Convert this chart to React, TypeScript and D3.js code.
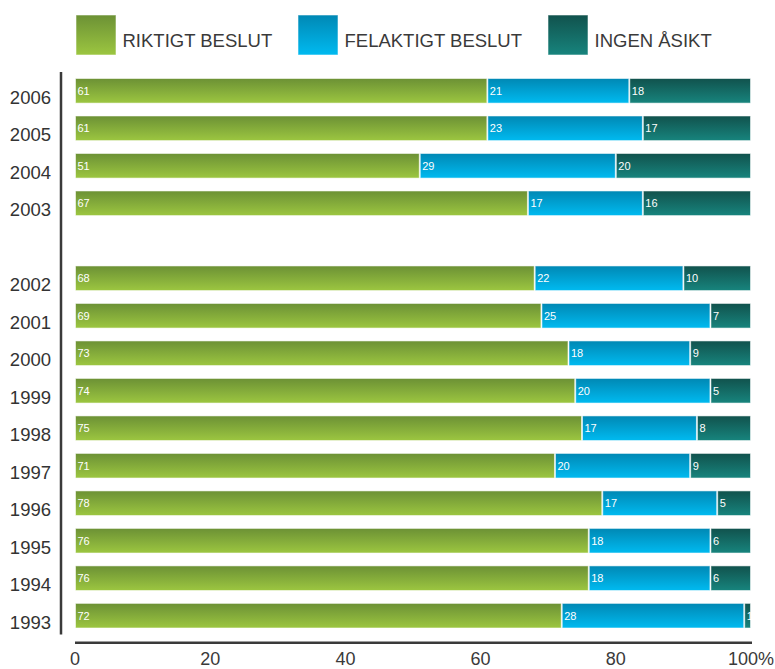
import React from "react";
import * as d3 from "d3";

const years = ["2006", "2005", "2004", "2003", "", "2002", "2001", "2000", "1999", "1998", "1997", "1996", "1995", "1994", "1993"];
const riktigt = [61, 61, 51, 67, null, 68, 69, 73, 74, 75, 71, 78, 76, 76, 72];
const felaktigt = [21, 23, 29, 17, null, 22, 25, 18, 20, 17, 20, 17, 18, 18, 28];
const ingen = [18, 17, 20, 16, null, 10, 7, 9, 5, 8, 9, 5, 6, 6, 1];
const seriesNames = ["RIKTIGT BESLUT", "FELAKTIGT BESLUT", "INGEN ÅSIKT"];
const xTicks = [0, 20, 40, 60, 80, 100];

const W = 775;
const H = 669;
const FONT = "'Liberation Sans', Arial, sans-serif";
const gradients = [
  { id: "gGreen", top: "#6c9135", bottom: "#9cc640" },
  { id: "gBlue", top: "#0088b4", bottom: "#00baf0" },
  { id: "gTeal", top: "#11524d", bottom: "#17847d" },
];
const legendX = [76, 298, 548];

export default function App() {
  const x = d3.scaleLinear().domain([0, 100]).range([75, 751]).clamp(true);
  const y = d3.scaleBand<string>().domain(years.map((d, i) => d || "gap" + i)).range([72, 634.5]).paddingInner(0.317).paddingOuter(0.16);
  const bw = y.bandwidth();

  const rows = years.map((yr, i) => {
    if (!yr) return null;
    const vals = [riktigt[i] as number, felaktigt[i] as number, ingen[i] as number];
    const segs: { s: number; e: number; v: number; k: number }[] = [];
    let cum = 0;
    vals.forEach((v, k) => {
      if (k < vals.length - 1) {
        segs.push({ s: cum, e: cum + v, v, k });
        cum += v;
      } else {
        const start = cum < 100 ? cum : 100 - v;
        segs.push({ s: start, e: 100, v, k });
      }
    });
    const lastStart = segs[segs.length - 1].s;
    segs.forEach((sg, k) => {
      if (k < segs.length - 1) sg.e = Math.min(sg.e, lastStart);
    });
    return { yr, key: yr, segs };
  });

  return (
    <svg width={W} height={H} style={{ position: "absolute", left: 0, top: 0, background: "#fff" }} fontFamily={FONT}>
      <defs>
        {gradients.map((g) => (
          <linearGradient key={g.id} id={g.id} x1="0" y1="0" x2="0" y2="1">
            <stop offset="0%" stopColor={g.top} />
            <stop offset="100%" stopColor={g.bottom} />
          </linearGradient>
        ))}
      </defs>

      {seriesNames.map((n, i) => (
        <g key={n}>
          <rect x={legendX[i]} y={15} width={40} height={40} fill={`url(#${gradients[i].id})`} stroke="rgba(255,255,255,0.55)" strokeWidth={1} />
          <text x={legendX[i] + 46.5} y={47} fontSize={18.5} fill="#3a3a3a">{n}</text>
        </g>
      ))}

      {rows.map((r) =>
        r ? (
          <g key={r.key}>
            <text x={51} y={(y(r.key) as number) + bw} fontSize={18.5} fill="#333" textAnchor="end">{r.yr}</text>
            {r.segs.map((sg) => {
              const x0 = x(sg.s);
              const x1 = x(sg.e);
              const yy = y(r.key) as number;
              return (
                <g key={sg.k}>
                  <rect x={x0 + 0.5} y={yy + 0.5} width={Math.max(0, x1 - x0 - 1)} height={bw - 1} fill={`url(#${gradients[sg.k].id})`} stroke="rgba(255,255,255,0.55)" strokeWidth={1} />
                  <text x={x0 + 2.5} y={yy + bw / 2 + 4} fontSize={11} fill="#fff">{sg.v}</text>
                </g>
              );
            })}
          </g>
        ) : null
      )}

      <line x1={61} x2={61} y1={72} y2={634.5} stroke="#3a3a3a" strokeWidth={2.5} />
      <line x1={75} x2={752} y1={642.8} y2={642.8} stroke="#3a3a3a" strokeWidth={2.5} />
      {xTicks.map((t) => (
        <text key={t} x={x(t)} y={665} fontSize={18} fill="#3a3a3a" textAnchor="middle">
          {t === 100 ? "100%" : t}
        </text>
      ))}
    </svg>
  );
}
